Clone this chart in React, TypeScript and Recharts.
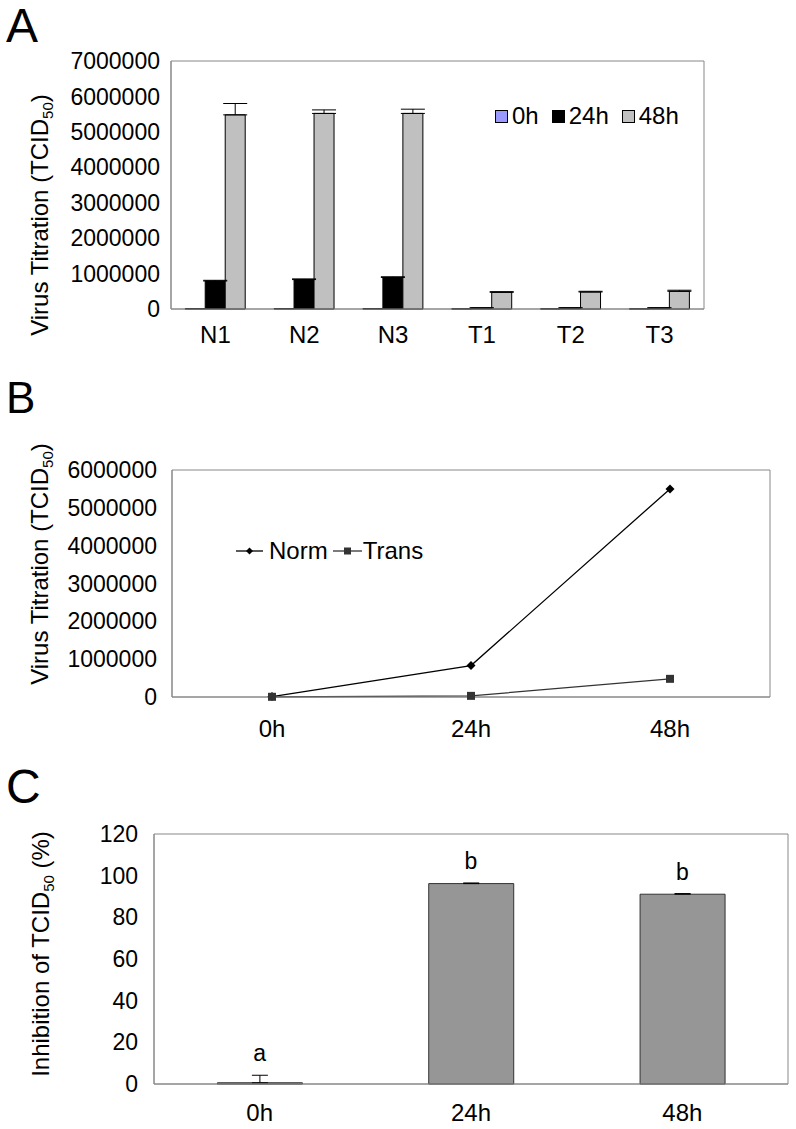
import React from 'react';
import {
  BarChart,
  Bar,
  LineChart,
  Line,
  ComposedChart,
  XAxis,
  YAxis,
  ErrorBar,
  Legend,
  LabelList,
  CartesianGrid,
} from 'recharts';

const FONT = '"Liberation Sans", Arial, Helvetica, sans-serif';

// Panel A: titre per sample and time point
const samples = ['N1', 'N2', 'N3', 'T1', 'T2', 'T3'];
const titer0h = [10000, 10000, 10000, 5000, 5000, 5000];
const titer24h = [790000, 830000, 890000, 30000, 30000, 30000];
const titer48h = [5480000, 5520000, 5520000, 470000, 480000, 500000];
const err24h = [20000, 20000, 20000, 5000, 5000, 5000];
const err48h = [320000, 100000, 120000, 20000, 20000, 30000];
const ticksA = [0, 1000000, 2000000, 3000000, 4000000, 5000000, 6000000, 7000000];

// Panel B: mean titre, normal vs transfected
const timePoints = ['0h', '24h', '48h'];
const normMean = [10000, 830000, 5500000];
const transMean = [5000, 30000, 480000];
const ticksB = [0, 1000000, 2000000, 3000000, 4000000, 5000000, 6000000];

// Panel C: inhibition (%)
const inhibition = [0.6, 96.2, 91.1];
const inhibitionErr = [3.6, 0.3, 0.3];
const sigLetters = ['a', 'b', 'b'];
const ticksC = [0, 20, 40, 60, 80, 100, 120];

const seriesA = [
  { key: 'h0', err: null, name: '0h', fill: '#9999FF' },
  { key: 'h24', err: 'e24', name: '24h', fill: '#000000' },
  { key: 'h48', err: 'e48', name: '48h', fill: '#C0C0C0' },
];

const dataA = samples.map((s, i) => ({
  name: s,
  h0: titer0h[i],
  h24: titer24h[i],
  h48: titer48h[i],
  e24: [0, err24h[i]],
  e48: [0, err48h[i]],
}));

const dataB = timePoints.map((t, i) => ({ name: t, norm: normMean[i], trans: transMean[i] }));

const dataC = timePoints.map((t, i) => ({
  name: t,
  value: inhibition[i],
  err: [0, inhibitionErr[i]],
  cap: inhibition[i] + inhibitionErr[i],
  letter: sigLetters[i],
}));

const tickStyle = { fontSize: 23, fill: '#000', fontFamily: FONT };
const xTickStyle = { fontSize: 24, fill: '#000', fontFamily: FONT };
const AXIS_GREY = '#888888';

// border around plot area
const frameH = ({ offset }: any) => (offset ? [offset.top, offset.top + offset.height] : []);
const frameV = ({ offset }: any) => (offset ? [offset.left, offset.left + offset.width] : []);

const RotLabel = ({ x, y, children }: { x: number; y: number; children: React.ReactNode }) => (
  <text
    transform={`translate(${x},${y}) rotate(-90)`}
    textAnchor="middle"
    fontSize={24}
    fontFamily={FONT}
    fill="#000"
  >
    {children}
  </text>
);

const Diamond = ({ cx, cy, r = 5 }: any) => (
  <path d={`M${cx},${cy - r}L${cx + r},${cy}L${cx},${cy + r}L${cx - r},${cy}Z`} fill="#000" />
);
const Square = ({ cx, cy, r = 4 }: any) => (
  <rect x={cx - r} y={cy - r} width={r * 2} height={r * 2} fill="#333" />
);

const LegendA = () => (
  <div style={{ display: 'flex', alignItems: 'center', fontSize: 24, fontFamily: FONT, lineHeight: '26px' }}>
    {seriesA.map((s) => (
      <span key={s.key} style={{ display: 'flex', alignItems: 'center', marginRight: 13 }}>
        <span
          style={{ width: 11, height: 11, background: s.fill, border: '1px solid #000', marginRight: 4 }}
        />
        {s.name}
      </span>
    ))}
  </div>
);

const LegendB = () => (
  <div style={{ display: 'flex', alignItems: 'center', fontSize: 24, fontFamily: FONT, lineHeight: '26px' }}>
    <svg width={27} height={12} style={{ marginRight: 6 }}>
      <line x1={0} y1={6} x2={27} y2={6} stroke="#000" strokeWidth={1.3} />
      <Diamond cx={13.5} cy={6} r={3.5} />
    </svg>
    <span style={{ marginRight: 5 }}>Norm</span>
    <svg width={29} height={12} style={{ marginRight: 1 }}>
      <line x1={0} y1={6} x2={29} y2={6} stroke="#333" strokeWidth={1.3} />
      <Square cx={14.5} cy={6} r={3.5} />
    </svg>
    <span>Trans</span>
  </div>
);

export default function App() {
  return (
    <div style={{ position: 'absolute', left: 0, top: 0, width: 796, height: 1129, background: '#fff', fontFamily: FONT }}>
      {/* A */}
      <div style={{ position: 'absolute', left: 0, top: 0 }}>
        <BarChart
          width={796}
          height={360}
          data={dataA}
          margin={{ top: 61, right: 92, bottom: 11, left: 60 }}
          barCategoryGap="16%"
          barGap={0}
        >
          <CartesianGrid stroke={AXIS_GREY} horizontalCoordinatesGenerator={frameH} verticalCoordinatesGenerator={frameV} />
          <XAxis
            dataKey="name"
            height={40}
            interval={0}
            tickSize={0}
            tickMargin={17}
            axisLine={{ stroke: AXIS_GREY }}
            tick={xTickStyle}
          />
          <YAxis
            width={111}
            domain={[0, 7000000]}
            ticks={ticksA}
            tickSize={0}
            tickMargin={11}
            axisLine={{ stroke: AXIS_GREY }}
            tick={tickStyle}
            label={{
              content: () => (
                <RotLabel x={48} y={215}>
                  Virus Titration (TCID<tspan fontSize={15} dy={5}>50</tspan>
                  <tspan dy={-5}>)</tspan>
                </RotLabel>
              ),
            }}
          />
          {seriesA.map((s) => (
            <Bar key={s.key} dataKey={s.key} name={s.name} fill={s.fill} stroke="#000" strokeWidth={1} isAnimationActive={false}>
              {s.err && <ErrorBar dataKey={s.err} width={12} stroke="#000" strokeWidth={1} />}
            </Bar>
          ))}
          <Legend
            layout="horizontal"
            verticalAlign="middle"
            align="center"
            width={200}
            wrapperStyle={{ left: 495, top: 103, width: 200 }}
            content={<LegendA />}
          />
        </BarChart>
      </div>

      {/* B */}
      <div style={{ position: 'absolute', left: 0, top: 360 }}>
        <LineChart width={796} height={390} data={dataB} margin={{ top: 110, right: 26, bottom: 23, left: 61 }}>
          <CartesianGrid stroke={AXIS_GREY} horizontalCoordinatesGenerator={frameH} verticalCoordinatesGenerator={frameV} />
          <XAxis
            dataKey="name"
            height={30}
            interval={0}
            padding={{ left: 100, right: 100 }}
            tickSize={0}
            tickMargin={23}
            axisLine={{ stroke: AXIS_GREY }}
            tick={xTickStyle}
          />
          <YAxis
            width={111}
            domain={[0, 6000000]}
            ticks={ticksB}
            tickSize={0}
            tickMargin={15}
            axisLine={{ stroke: AXIS_GREY }}
            tick={tickStyle}
            label={{
              content: () => (
                <RotLabel x={48} y={204}>
                  Virus Titration (TCID<tspan fontSize={15} dy={5}>50</tspan>
                  <tspan dy={-5}>)</tspan>
                </RotLabel>
              ),
            }}
          />
          <Line
            dataKey="norm"
            name="Norm"
            stroke="#000"
            strokeWidth={1.3}
            dot={(p: any) => <Diamond key={`n${p.index}`} cx={p.cx} cy={p.cy} r={4.5} />}
            isAnimationActive={false}
          />
          <Line
            dataKey="trans"
            name="Trans"
            stroke="#333"
            strokeWidth={1.3}
            dot={(p: any) => <Square key={`t${p.index}`} cx={p.cx} cy={p.cy} r={4} />}
            isAnimationActive={false}
          />
          <Legend
            layout="horizontal"
            verticalAlign="middle"
            align="center"
            width={200}
            wrapperStyle={{ left: 236, top: 178, width: 200 }}
            content={<LegendB />}
          />
        </LineChart>
      </div>

      {/* C */}
      <div style={{ position: 'absolute', left: 0, top: 740 }}>
        <ComposedChart
          width={796}
          height={389}
          data={dataC}
          margin={{ top: 94, right: 8, bottom: 10, left: 60 }}
          barCategoryGap="30%"
        >
          <CartesianGrid stroke={AXIS_GREY} horizontalCoordinatesGenerator={frameH} verticalCoordinatesGenerator={frameV} />
          <XAxis
            dataKey="name"
            height={35}
            interval={0}
            tickSize={0}
            tickMargin={20}
            axisLine={{ stroke: AXIS_GREY }}
            tick={xTickStyle}
          />
          <YAxis
            width={94}
            domain={[0, 120]}
            ticks={ticksC}
            tickSize={0}
            tickMargin={16}
            axisLine={{ stroke: AXIS_GREY }}
            tick={tickStyle}
            label={{
              content: () => (
                <RotLabel x={49} y={214}>
                  Inhibition of TCID<tspan fontSize={15} dy={5}>50</tspan>
                  <tspan dy={-5}> (%)</tspan>
                </RotLabel>
              ),
            }}
          />
          <Bar dataKey="value" fill="#969696" stroke="#333" strokeWidth={1} isAnimationActive={false}>
            <ErrorBar dataKey="err" width={8} stroke="#000" strokeWidth={1} />
          </Bar>
          <Line dataKey="cap" stroke="none" dot={false} activeDot={false} legendType="none" isAnimationActive={false}>
            <LabelList dataKey="letter" position="top" offset={14} fontSize={23} fill="#000" fontFamily={FONT} />
          </Line>
        </ComposedChart>
      </div>

      {/* panel letters */}
      <svg width={796} height={1129} style={{ position: 'absolute', left: 0, top: 0, pointerEvents: 'none' }}>
        <text x={6} y={42} fontSize={48} fontFamily={FONT} fill="#000">A</text>
        <text x={6} y={413} fontSize={44} fontFamily={FONT} fill="#000">B</text>
        <text x={6} y={803} fontSize={48} fontFamily={FONT} fill="#000">C</text>
      </svg>
    </div>
  );
}
